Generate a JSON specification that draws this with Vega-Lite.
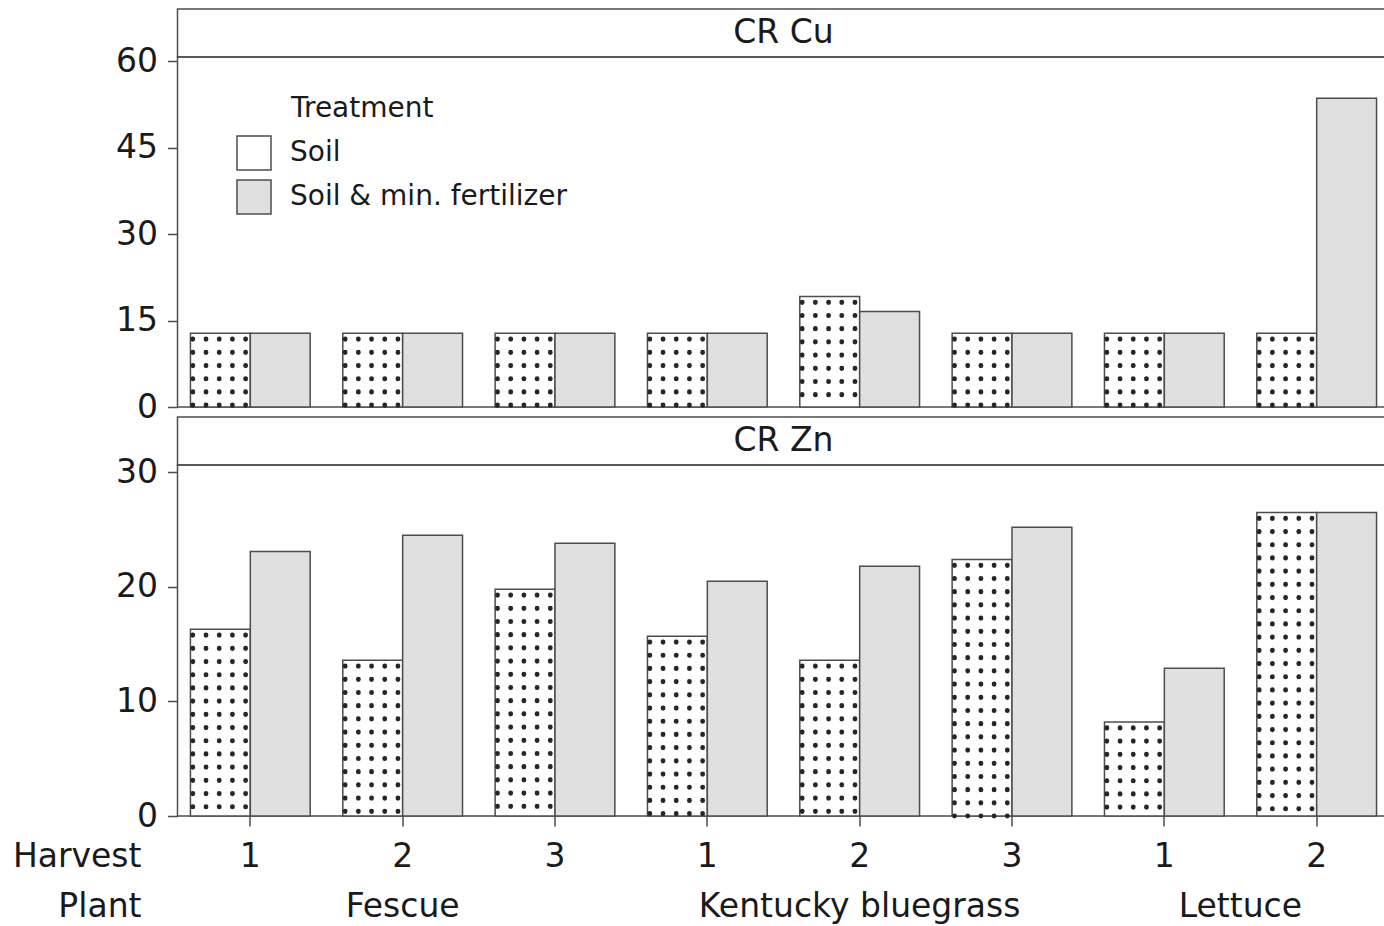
{
  "$schema": "https://vega.github.io/schema/vega-lite/v6.json",
  "background": "white",
  "padding": {"left": 11.5, "top": 8, "right": 0, "bottom": 0},
  "autosize": {"type": "pad"},
  "datasets": {
    "bars": [
      {"bar": "Fescue 1", "plant": "Fescue", "harvest": "1", "treatment": "Soil", "cu": 12.8, "zn": 16.3},
      {"bar": "Fescue 1", "plant": "Fescue", "harvest": "1", "treatment": "Soil & min. fertilizer", "cu": 12.8, "zn": 23.1},
      {"bar": "Fescue 2", "plant": "Fescue", "harvest": "2", "treatment": "Soil", "cu": 12.8, "zn": 13.6},
      {"bar": "Fescue 2", "plant": "Fescue", "harvest": "2", "treatment": "Soil & min. fertilizer", "cu": 12.8, "zn": 24.5},
      {"bar": "Fescue 3", "plant": "Fescue", "harvest": "3", "treatment": "Soil", "cu": 12.8, "zn": 19.8},
      {"bar": "Fescue 3", "plant": "Fescue", "harvest": "3", "treatment": "Soil & min. fertilizer", "cu": 12.8, "zn": 23.8},
      {"bar": "Kentucky bluegrass 1", "plant": "Kentucky bluegrass", "harvest": "1", "treatment": "Soil", "cu": 12.8, "zn": 15.7},
      {"bar": "Kentucky bluegrass 1", "plant": "Kentucky bluegrass", "harvest": "1", "treatment": "Soil & min. fertilizer", "cu": 12.8, "zn": 20.5},
      {"bar": "Kentucky bluegrass 2", "plant": "Kentucky bluegrass", "harvest": "2", "treatment": "Soil", "cu": 19.2, "zn": 13.6},
      {"bar": "Kentucky bluegrass 2", "plant": "Kentucky bluegrass", "harvest": "2", "treatment": "Soil & min. fertilizer", "cu": 16.6, "zn": 21.8},
      {"bar": "Kentucky bluegrass 3", "plant": "Kentucky bluegrass", "harvest": "3", "treatment": "Soil", "cu": 12.8, "zn": 22.4},
      {"bar": "Kentucky bluegrass 3", "plant": "Kentucky bluegrass", "harvest": "3", "treatment": "Soil & min. fertilizer", "cu": 12.8, "zn": 25.2},
      {"bar": "Lettuce 1", "plant": "Lettuce", "harvest": "1", "treatment": "Soil", "cu": 12.8, "zn": 8.2},
      {"bar": "Lettuce 1", "plant": "Lettuce", "harvest": "1", "treatment": "Soil & min. fertilizer", "cu": 12.8, "zn": 12.9},
      {"bar": "Lettuce 2", "plant": "Lettuce", "harvest": "2", "treatment": "Soil", "cu": 12.8, "zn": 26.5},
      {"bar": "Lettuce 2", "plant": "Lettuce", "harvest": "2", "treatment": "Soil & min. fertilizer", "cu": 53.6, "zn": 26.5}
    ],
    "hcu": [{"panel": "CR Cu"}],
    "hzn": [{"panel": "CR Zn"}],
    "gap": [{"panel": ""}]
  },
  "spacing": 0,
  "bounds": "flush",
  "vconcat": [
    {
      "width": 1212, "height": 48,
      "data": {"name": "hcu"},
      "mark": {"type": "text", "fontSize": 33, "font": "DejaVu Sans", "color": "#1a1a1a", "baseline": "middle"},
      "encoding": {
        "x": {"field": "panel", "type": "nominal", "axis": null},
        "y": {"field": "panel", "type": "nominal", "axis": null},
        "text": {"field": "panel", "type": "nominal"}
      }
    },
    {
      "width": 1212, "height": 350,
      "data": {"name": "bars"},
      "encoding": {
        "x": {"field": "bar", "type": "nominal", "scale": {"paddingInner": 0.214, "paddingOuter": 0.085}, "axis": null},
        "y": {"field": "cu", "type": "quantitative", "scale": {"domain": [0, 60.76], "nice": false, "zero": true},
              "axis": {"values": [0, 15, 30, 45, 60], "title": null, "tickSize": 10, "labelPadding": 10, "domain": false, "grid": false}}
      },
      "layer": [
        {
          "mark": {"type": "bar", "stroke": "#4d4d4d", "strokeWidth": 1.5},
          "encoding": {
            "xOffset": {"field": "treatment", "type": "nominal", "scale": {"paddingInner": 0, "paddingOuter": 0}},
            "fill": {"field": "treatment", "type": "nominal",
              "scale": {"domain": ["Soil", "Soil & min. fertilizer"], "range": ["#ffffff", "#e0e0e0"]},
              "legend": {"orient": "none", "legendX": 58.5, "legendY": 86, "title": "Treatment",
                "titleFontSize": 28, "titleFontWeight": "normal", "titleFont": "DejaVu Sans", "titleColor": "#1a1a1a", "titlePadding": 12,
                "labelFontSize": 28, "labelFont": "DejaVu Sans", "labelColor": "#1a1a1a", "labelOffset": 18, "labelLimit": 1000,
                "symbolType": "square", "symbolSize": 1156, "symbolStrokeColor": "#4d4d4d", "symbolStrokeWidth": 1.5,
                "rowPadding": 4, "padding": 0,
                "encoding": {"title": {"dx": {"value": 55}}}}}
          }
        },
        {"transform": [{"filter": "datum.treatment == 'Soil'"}],
         "mark": {"type": "rule", "stroke": "#262626", "strokeWidth": 4.8, "strokeDash": [0.4, 12.8], "strokeDashOffset": 7.5, "strokeCap": "round", "xOffset": -57.5},
         "encoding": {"y2": {"datum": 0}}},
        {"transform": [{"filter": "datum.treatment == 'Soil'"}],
         "mark": {"type": "rule", "stroke": "#262626", "strokeWidth": 4.8, "strokeDash": [0.4, 12.8], "strokeDashOffset": 7.5, "strokeCap": "round", "xOffset": -44.3},
         "encoding": {"y2": {"datum": 0}}},
        {"transform": [{"filter": "datum.treatment == 'Soil'"}],
         "mark": {"type": "rule", "stroke": "#262626", "strokeWidth": 4.8, "strokeDash": [0.4, 12.8], "strokeDashOffset": 7.5, "strokeCap": "round", "xOffset": -31.1},
         "encoding": {"y2": {"datum": 0}}},
        {"transform": [{"filter": "datum.treatment == 'Soil'"}],
         "mark": {"type": "rule", "stroke": "#262626", "strokeWidth": 4.8, "strokeDash": [0.4, 12.8], "strokeDashOffset": 7.5, "strokeCap": "round", "xOffset": -17.9},
         "encoding": {"y2": {"datum": 0}}},
        {"transform": [{"filter": "datum.treatment == 'Soil'"}],
         "mark": {"type": "rule", "stroke": "#262626", "strokeWidth": 4.8, "strokeDash": [0.4, 12.8], "strokeDashOffset": 7.5, "strokeCap": "round", "xOffset": -4.7},
         "encoding": {"y2": {"datum": 0}}}
      ]
    },
    {
      "width": 1212, "height": 10,
      "view": {"stroke": null},
      "data": {"name": "gap"},
      "mark": {"type": "text", "fontSize": 1, "opacity": 0},
      "encoding": {"text": {"field": "panel", "type": "nominal"}}
    },
    {
      "width": 1212, "height": 48,
      "data": {"name": "hzn"},
      "mark": {"type": "text", "fontSize": 33, "font": "DejaVu Sans", "color": "#1a1a1a", "baseline": "middle"},
      "encoding": {
        "x": {"field": "panel", "type": "nominal", "axis": null},
        "y": {"field": "panel", "type": "nominal", "axis": null},
        "text": {"field": "panel", "type": "nominal"}
      }
    },
    {
      "width": 1212, "height": 351,
      "data": {"name": "bars"},
      "resolve": {"axis": {"x": "independent"}},
      "encoding": {
        "x": {"field": "bar", "type": "nominal", "scale": {"paddingInner": 0.214, "paddingOuter": 0.085}, "axis": null},
        "y": {"field": "zn", "type": "quantitative", "scale": {"domain": [0, 30.64], "nice": false, "zero": true},
              "axis": {"values": [0, 10, 20, 30], "title": null, "tickSize": 10, "labelPadding": 10, "domain": false, "grid": false}}
      },
      "layer": [
        {
          "mark": {"type": "bar", "stroke": "#4d4d4d", "strokeWidth": 1.5},
          "encoding": {
            "x": {"field": "bar", "type": "nominal", "scale": {"paddingInner": 0.214, "paddingOuter": 0.085},
              "axis": {"orient": "bottom", "labelExpr": "slice(datum.label, -1)", "labelAngle": 0, "tickSize": 10,
                "labelPadding": 40, "labelBaseline": "alphabetic", "domain": false, "grid": false, "labelOverlap": false,
                "title": "Harvest", "titleX": -36.5, "titleY": 50, "titleAlign": "right", "titleBaseline": "alphabetic", "titleAnchor": null}},
            "xOffset": {"field": "treatment", "type": "nominal", "scale": {"paddingInner": 0, "paddingOuter": 0}},
            "fill": {"field": "treatment", "type": "nominal",
              "scale": {"domain": ["Soil", "Soil & min. fertilizer"], "range": ["#ffffff", "#e0e0e0"]}, "legend": null}
          }
        },
        {"transform": [{"filter": "datum.treatment == 'Soil'"}],
         "mark": {"type": "rule", "stroke": "#262626", "strokeWidth": 4.8, "strokeDash": [0.4, 12.8], "strokeDashOffset": 7.5, "strokeCap": "round", "xOffset": -57.5},
         "encoding": {
           "x": {"field": "bar", "type": "nominal",
             "axis": {"orient": "bottom", "labelExpr": "datum.value == 'Fescue 2' ? 'Fescue' : datum.value == 'Kentucky bluegrass 2' ? 'Kentucky bluegrass' : datum.value == 'Lettuce 1' ? 'Lettuce' : ''",
               "labelAngle": 0, "ticks": false, "tickSize": 0, "labelPadding": 100, "labelBaseline": "alphabetic", "domain": false, "grid": false,
               "labelOverlap": false, "labelLimit": 1000,
               "labelOffset": {"condition": {"test": "datum.value == 'Lettuce 1'", "value": 76}, "value": 0},
               "title": "Plant", "titleX": -36.5, "titleY": 100, "titleAlign": "right", "titleBaseline": "alphabetic", "titleAnchor": null}},
           "y2": {"datum": 0}}},
        {"transform": [{"filter": "datum.treatment == 'Soil'"}],
         "mark": {"type": "rule", "stroke": "#262626", "strokeWidth": 4.8, "strokeDash": [0.4, 12.8], "strokeDashOffset": 7.5, "strokeCap": "round", "xOffset": -44.3},
         "encoding": {"y2": {"datum": 0}}},
        {"transform": [{"filter": "datum.treatment == 'Soil'"}],
         "mark": {"type": "rule", "stroke": "#262626", "strokeWidth": 4.8, "strokeDash": [0.4, 12.8], "strokeDashOffset": 7.5, "strokeCap": "round", "xOffset": -31.1},
         "encoding": {"y2": {"datum": 0}}},
        {"transform": [{"filter": "datum.treatment == 'Soil'"}],
         "mark": {"type": "rule", "stroke": "#262626", "strokeWidth": 4.8, "strokeDash": [0.4, 12.8], "strokeDashOffset": 7.5, "strokeCap": "round", "xOffset": -17.9},
         "encoding": {"y2": {"datum": 0}}},
        {"transform": [{"filter": "datum.treatment == 'Soil'"}],
         "mark": {"type": "rule", "stroke": "#262626", "strokeWidth": 4.8, "strokeDash": [0.4, 12.8], "strokeDashOffset": 7.5, "strokeCap": "round", "xOffset": -4.7},
         "encoding": {"y2": {"datum": 0}}}
      ]
    }
  ],
  "config": {
    "font": "DejaVu Sans",
    "view": {"stroke": "#4d4d4d", "strokeWidth": 1.5},
    "axis": {
      "labelFont": "DejaVu Sans", "labelFontSize": 33, "labelColor": "#1a1a1a",
      "titleFont": "DejaVu Sans", "titleFontSize": 33, "titleFontWeight": "normal", "titleColor": "#1a1a1a",
      "tickColor": "#4d4d4d", "tickWidth": 1.5, "domainColor": "#4d4d4d"
    }
  }
}
